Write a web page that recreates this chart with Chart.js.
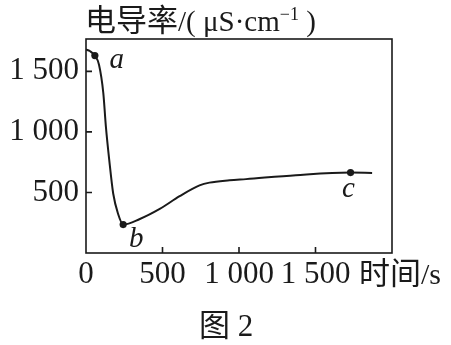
<!DOCTYPE html>
<html>
<head>
<meta charset="utf-8">
<script src="https://cdn.jsdelivr.net/npm/chart.js@4.4.1/dist/chart.umd.min.js"></script>
<style>
  html, body { margin: 0; padding: 0; background: #fff; }
  #wrap { width: 451px; height: 345px; }
</style>
</head>
<body>
<div id="wrap"><canvas id="chart" width="451" height="345"></canvas></div>
<script>
// Conductivity curve
const timeS = [0, 25, 58, 85, 113, 130, 152, 178, 210, 243, 352, 482, 612, 742, 807, 938, 1046, 1372, 1729, 1870];
const conductivity = [1680, 1668, 1630, 1555, 1322, 1044, 767, 489, 322, 235, 281, 364, 469, 558, 581, 600, 610, 642, 664, 661];

// Marked points a, b, c
const markLabels = ["a", "b", "c"];
const markTime = [58, 243, 1729];
const markValue = [1630, 235, 664];

// Axis ticks
const xTicks = [0, 500, 1000, 1500];
const yTicks = [500, 1000, 1500];

const INK = "#1a1a1a";
const SERIF = "'Liberation Serif', 'DejaVu Serif', serif";
const CJK = "'Noto Sans CJK SC', sans-serif";

// "1 500" style numbers
function fmt(v) {
    return v >= 1000 ? Math.floor(v / 1000) + " " + String(v % 1000).padStart(3, "0") : String(v);
}

// draw a row of text pieces with different fonts
function drawRuns(c, x, y, runs) {
    runs.forEach((r) => {
        c.font = r.font;
        c.fillText(r.t, x, y - (r.dy || 0));
        x += c.measureText(r.t).width;
    });
}

const decorPlugin = {
    id: "decor",
    afterDraw(chart) {
        const c = chart.ctx;
        const a = chart.chartArea;
        const xs = chart.scales.x;
        const ys = chart.scales.y;
        c.save();
        c.strokeStyle = INK;
        c.fillStyle = INK;

        // frame
        c.lineWidth = 1.6;
        c.strokeRect(a.left, a.top, a.right - a.left, a.bottom - a.top);

        // inward ticks
        c.beginPath();
        yTicks.forEach((v) => {
            const py = ys.getPixelForValue(v);
            c.moveTo(a.left, py);
            c.lineTo(a.left + 6, py);
        });
        xTicks.slice(1).forEach((v) => {
            const px = xs.getPixelForValue(v);
            c.moveTo(px, a.bottom);
            c.lineTo(px, a.bottom - 6);
        });
        c.stroke();

        c.textAlign = "left";
        c.textBaseline = "alphabetic";

        // y axis title
        drawRuns(c, 85, 31, [
            { t: "电导率", font: "31px " + CJK },
            { t: "/( μS·cm", font: "29px " + SERIF },
            { t: "−1", font: "18px " + SERIF, dy: 11 },
            { t: " )", font: "29px " + SERIF }
        ]);

        // x axis title
        drawRuns(c, 359, 284, [
            { t: "时间", font: "31px " + CJK },
            { t: "/s", font: "30px " + SERIF }
        ]);

        // caption
        drawRuns(c, 199, 336, [
            { t: "图", font: "31px " + CJK },
            { t: " 2", font: "31px " + SERIF }
        ]);

        // point labels
        const off = [[22, 5], [13, 15], [-2, 17]];
        c.font = "italic 29px " + SERIF;
        c.textAlign = "center";
        c.textBaseline = "middle";
        markLabels.forEach((lab, i) => {
            const px = xs.getPixelForValue(markTime[i]);
            const py = ys.getPixelForValue(markValue[i]);
            c.fillText(lab, px + off[i][0], py + off[i][1]);
        });
        c.restore();
    }
};

new Chart(document.getElementById("chart"), {
    type: "line",
    data: {
        datasets: [
            {
                data: timeS.map((t, i) => ({ x: t, y: conductivity[i] })),
                borderColor: INK,
                borderWidth: 2,
                pointRadius: 0,
                cubicInterpolationMode: "monotone",
                fill: false
            },
            {
                data: markTime.map((t, i) => ({ x: t, y: markValue[i] })),
                showLine: false,
                pointRadius: 3.6,
                pointBackgroundColor: INK,
                pointBorderColor: INK,
                pointBorderWidth: 0
            }
        ]
    },
    options: {
        responsive: false,
        animation: false,
        events: [],
        layout: { padding: { left: 0, top: 39, right: 59, bottom: 0 } },
        plugins: {
            legend: { display: false },
            tooltip: { enabled: false }
        },
        scales: {
            x: {
                type: "linear",
                min: 0,
                max: 2000,
                afterFit: (s) => { s.height = 92; },
                afterBuildTicks: (s) => { s.ticks = xTicks.map((v) => ({ value: v })); },
                grid: { display: false, drawTicks: false },
                border: { display: false },
                ticks: {
                    autoSkip: false,
                    maxRotation: 0,
                    padding: 3,
                    color: INK,
                    font: { family: SERIF, size: 31 },
                    callback: (v) => fmt(v)
                }
            },
            y: {
                min: 0,
                max: 1767,
                afterFit: (s) => { s.width = 86; },
                afterBuildTicks: (s) => { s.ticks = yTicks.map((v) => ({ value: v })); },
                grid: { display: false, drawTicks: false },
                border: { display: false },
                ticks: {
                    padding: 7,
                    color: INK,
                    font: { family: SERIF, size: 31 },
                    callback: (v) => fmt(v)
                }
            }
        }
    },
    plugins: [decorPlugin]
});
</script>
</body>
</html>
